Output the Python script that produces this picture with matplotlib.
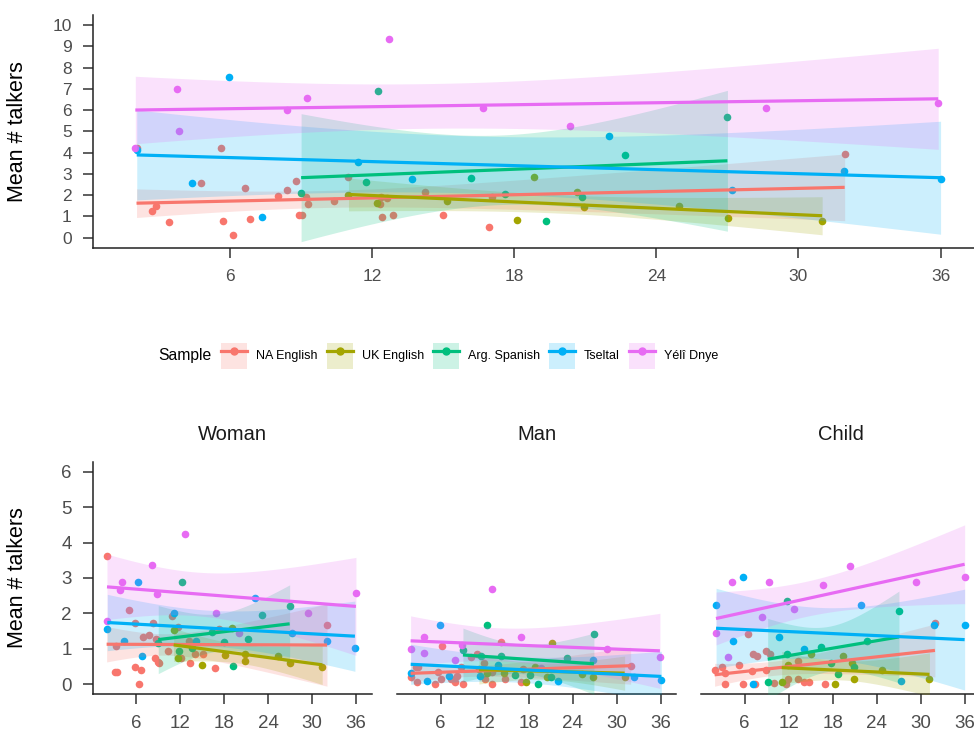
import matplotlib

matplotlib.use("Agg")
import matplotlib.pyplot as plt
import numpy as np
from matplotlib import font_manager
from matplotlib.legend_handler import HandlerTuple
from matplotlib.lines import Line2D
from matplotlib.patches import Patch

# ---- data: (age in months, mean # talkers) per sample --------------------
SAMPLES = ["NA English", "UK English", "Arg. Spanish", "Tseltal", "Yélî Dnye"]
COLORS = ["#F8766D", "#A3A500", "#00BF7D", "#00B0F6", "#E76BF3"]
FACETS = ["Woman", "Man", "Child"]

# top panel: all speakers
TOP_NA = [(2.05, 4.22), (2.72, 1.24), (2.87, 1.50), (3.41, 0.74), (4.79, 2.59),
          (5.63, 4.22), (5.72, 0.80), (6.14, 0.11), (6.65, 2.34), (6.86, 0.86),
          (8.01, 1.96), (8.39, 2.24), (8.80, 2.67), (8.89, 1.07), (9.04, 1.07),
          (9.21, 1.90), (9.27, 1.57), (10.37, 1.74), (11.0, 2.87), (12.37, 1.93),
          (12.62, 1.85), (12.31, 1.58), (12.41, 0.99), (12.87, 1.07), (14.25, 2.13),
          (14.98, 1.07), (16.93, 0.52), (17.07, 1.91), (31.95, 3.94)]
TOP_UK = [(11.0, 1.99), (12.2, 1.62), (15.15, 1.73), (18.11, 0.85), (18.84, 2.85),
          (20.65, 2.13), (20.94, 1.46), (24.97, 1.48), (27.04, 0.91), (31.0, 0.80)]
TOP_ARG = [(9.0, 2.12), (12.25, 6.9), (11.76, 2.6), (16.17, 2.79), (17.62, 2.07),
           (19.35, 0.80), (20.87, 1.91), (22.69, 3.87), (27.0, 5.67)]
TOP_TS = [(2.06, 4.12), (5.94, 7.56), (4.38, 2.57), (7.36, 0.99), (11.40, 3.54),
          (13.68, 2.76), (22.02, 4.78), (27.18, 2.23), (31.93, 3.12), (36.0, 2.77)]
TOP_YD = [(2.0, 4.23), (3.76, 6.99), (3.86, 5.02), (8.39, 6.0), (9.24, 6.55),
          (12.70, 9.34), (16.66, 6.11), (20.35, 5.24), (28.63, 6.11), (35.9, 6.32)]

# bottom panels: by speaker type
W_NA = [(2.0, 3.62), (5.0, 2.09), (5.9, 1.74), (8.27, 1.74), (6.95, 1.34), (7.73, 1.39),
        (8.77, 1.29), (3.27, 1.08), (3.1, 0.34), (3.4, 0.34), (5.9, 0.5), (6.72, 0.40),
        (6.37, 0.01), (8.63, 0.75), (8.96, 0.64), (9.1, 0.59), (10.31, 0.95), (10.9, 1.94),
        (11.73, 1.63), (12.18, 0.75), (13.18, 1.23), (13.32, 0.61), (14.0, 0.87),
        (15.14, 0.87), (16.82, 0.47), (17.36, 1.55), (32.05, 1.67)]
W_UK = [(11.14, 1.53), (11.73, 0.75), (19.09, 1.6), (15.0, 0.54), (18.18, 0.82),
        (20.82, 0.87), (20.9, 0.67), (25.4, 0.81), (26.99, 0.59), (31.4, 0.48)]
W_ARG = [(9.04, 1.16), (12.23, 2.89), (11.82, 0.94), (13.64, 1.02), (16.36, 1.47),
         (18.05, 1.2), (19.23, 0.53), (21.27, 1.28), (23.23, 1.95), (26.96, 2.21)]
W_TS = [(2.09, 1.55), (4.36, 1.23), (6.23, 2.9), (6.86, 0.79), (11.18, 2.0),
        (14.22, 1.22), (22.27, 2.45), (27.27, 1.44), (32.0, 1.23), (35.86, 1.02)]
W_YD = [(2.05, 1.8), (4.05, 2.9), (3.78, 2.66), (8.18, 3.36), (8.86, 2.56),
        (12.64, 4.23), (16.91, 2.01), (20.09, 1.44), (29.41, 2.0), (36.0, 2.57)]

M_NA = [(1.9, 0.22), (2.67, 0.48), (2.9, 0.48), (2.77, 0.07), (5.26, 0.01), (5.63, 0.34),
        (6.08, 0.14), (6.22, 1.08), (7.45, 0.14), (7.91, 0.07), (8.26, 0.24), (8.81, 0.48),
        (9.04, 0.01), (10.09, 0.78), (10.99, 0.87), (11.9, 0.61), (12.0, 0.14),
        (13.04, 0.36), (13.04, 0.01), (14.27, 1.2), (14.81, 0.14), (17.22, 0.42),
        (17.0, 0.07), (31.91, 0.52)]
M_UK = [(11.22, 0.42), (12.36, 0.33), (14.63, 0.33), (17.59, 0.07), (18.82, 0.48),
        (20.54, 0.22), (21.22, 1.16), (25.27, 0.28), (26.77, 0.22), (31.09, 0.2)]
M_ARG = [(9.04, 0.97), (12.31, 1.67), (11.54, 0.81), (14.18, 0.81), (16.09, 0.26),
         (18.14, 0.26), (19.27, 0.01), (21.08, 0.22), (23.22, 0.73), (26.9, 1.42)]
M_TS = [(1.91, 0.33), (4.17, 0.10), (5.95, 1.67), (7.09, 0.23), (11.32, 0.23),
        (13.81, 0.56), (22.0, 0.10), (26.77, 0.69), (32.32, 0.21), (36.1, 0.12)]
M_YD = [(1.9, 1.0), (3.72, 1.34), (3.72, 0.89), (7.99, 0.69), (8.86, 1.1),
        (13.04, 2.68), (16.91, 1.34), (19.64, 0.45), (28.68, 1.0), (35.9, 0.78)]

C_NA = [(1.9, 0.40), (2.86, 0.48), (3.31, 0.33), (3.31, 0.01), (5.26, 0.54), (5.73, 0.01),
        (7.4, 0.01), (6.41, 1.41), (6.95, 0.38), (7.09, 0.87), (7.72, 0.8), (8.86, 0.95),
        (9.45, 0.87), (8.9, 0.40), (10.0, 0.03), (11.63, 0.01), (11.95, 0.14),
        (13.23, 0.67), (13.3, 0.14), (14.09, 0.07), (14.81, 0.07), (16.95, 0.01),
        (31.95, 1.72)]
C_UK = [(11.05, 0.06), (11.95, 0.54), (15.0, 0.85), (18.31, 0.0), (19.36, 0.81),
        (20.67, 0.61), (20.95, 0.14), (24.68, 0.4), (31.2, 0.14)]
C_ARG = [(9.14, 0.07), (11.81, 2.35), (11.81, 0.87), (16.36, 1.06), (17.73, 0.59),
         (18.76, 0.28), (20.95, 0.48), (22.72, 1.21), (27.04, 2.08)]
C_TS = [(2.1, 2.23), (5.81, 3.02), (4.36, 1.23), (10.72, 1.34), (7.09, 0.01),
        (14.13, 1.0), (21.9, 2.23), (27.36, 0.10), (31.86, 1.67), (36.0, 1.67)]
C_YD = [(2.09, 1.44), (4.27, 2.9), (3.68, 0.78), (8.32, 1.89), (9.36, 2.9),
        (12.72, 2.12), (16.72, 2.79), (20.4, 3.34), (29.36, 2.9), (36.0, 3.02)]

TOP = [TOP_NA, TOP_UK, TOP_ARG, TOP_TS, TOP_YD]
BOTTOM = [[W_NA, W_UK, W_ARG, W_TS, W_YD],
          [M_NA, M_UK, M_ARG, M_TS, M_YD],
          [C_NA, C_UK, C_ARG, C_TS, C_YD]]

# ---- fonts ------------------------------------------------------------------
_names = {f.name for f in font_manager.fontManager.ttflist}
BASE = "Liberation Sans" if "Liberation Sans" in _names else "DejaVu Sans"
plt.rcParams["font.family"] = [BASE, "DejaVu Sans"]

W, H = 974, 732
TICK_GREY = "#4D4D4D"


def t975(df):
    # Cornish-Fisher approximation of the 97.5% Student-t quantile
    z = 1.959964
    return z + 2.3722 / df + 2.8224 / df ** 2 + 2.5558 / df ** 3


def smooth(ax, pts, color):
    # linear fit with 95% confidence band, like geom_smooth(method = "lm")
    x = np.array([p[0] for p in pts])
    y = np.array([p[1] for p in pts])
    n = len(x)
    b, a = np.polyfit(x, y, 1)
    resid = y - (a + b * x)
    s = np.sqrt(np.sum(resid ** 2) / (n - 2))
    xs = np.linspace(x.min(), x.max(), 80)
    fit = a + b * xs
    se = s * np.sqrt(1 / n + (xs - x.mean()) ** 2 / np.sum((x - x.mean()) ** 2))
    hw = t975(n - 2) * se
    ax.fill_between(xs, fit - hw, fit + hw, color=color, alpha=0.2, lw=0, zorder=3)
    ax.plot(xs, fit, color=color, lw=2.3, solid_capstyle="butt", zorder=4)


def panel(ax, groups, tick_size, show_y=True):
    for pts, c in zip(groups, COLORS):
        ax.scatter([p[0] for p in pts], [p[1] for p in pts], s=30, color=c,
                   linewidths=0, zorder=2)
    for pts, c in zip(groups, COLORS):
        smooth(ax, pts, c)
    for side in ("top", "right"):
        ax.spines[side].set_visible(False)
    for side in ("left", "bottom"):
        ax.spines[side].set_linewidth(1.1)
        ax.spines[side].set_color("#222222")
    ax.set_xticks([6, 12, 18, 24, 30, 36])
    ax.tick_params(length=7, width=1.1, color="#333333", labelcolor=TICK_GREY,
                   labelsize=tick_size, pad=8)
    if not show_y:
        ax.spines["left"].set_visible(False)
        ax.tick_params(axis="y", left=False, labelleft=False)


def px_axes(fig, left, top, width, height):
    return fig.add_axes([left / W, 1 - (top + height) / H, width / W, height / H])


fig = plt.figure(figsize=(W / 100, H / 100), dpi=100)

# top panel (extends past the right edge, as in the original crop)
ax = px_axes(fig, 92.7, 15, 890.5, 233.3)
panel(ax, TOP, 12.5)
ax.set_xlim(0.2, 37.8)
ax.set_ylim(-0.5, 10.47)
ax.set_yticks(range(0, 11))
fig.text(17.5 / W, 1 - 131.7 / H, "Mean # talkers", rotation=90, ha="center",
         va="center", fontsize=15.5, color="black")

# legend: shaded key box with line and point, all overlaid
handles = [(Patch(facecolor=c, alpha=0.2, edgecolor="none"),
            Line2D([], [], color=c, lw=2.3, marker="o", markersize=5))
           for c in COLORS]
fig.legend(handles, SAMPLES, handler_map={tuple: HandlerTuple(ndivide=1, pad=0)},
           loc="center left", bbox_to_anchor=(221 / W, 1 - 355.7 / H), ncol=5,
           frameon=False, numpoints=1, borderaxespad=0, borderpad=0,
           handlelength=2.08, handleheight=2.8, handletextpad=0.72,
           columnspacing=0.72, prop={"size": 9})
fig.text(158.3 / W, 1 - 355.7 / H, "Sample", ha="left", va="center",
         fontsize=11.3)

# facet panels
for i, (left, name, groups) in enumerate(zip([92.7, 397.4, 701.4], FACETS, BOTTOM)):
    bx = px_axes(fig, left, 461.7, 279, 232.6)
    panel(bx, groups, 13.5, show_y=(i == 0))
    bx.set_xlim(0.1, 38.15)
    bx.set_ylim(-0.28, 6.28)
    bx.set_yticks(range(0, 7))
    bx.text(0.5, 1 + (461.7 - 435) / 232.6, name, transform=bx.transAxes,
            ha="center", va="center", fontsize=14.5, color="#1A1A1A")
fig.text(17.5 / W, 1 - 577.6 / H, "Mean # talkers", rotation=90, ha="center",
         va="center", fontsize=15.5, color="black")

fig.savefig("out.png", dpi=100, facecolor="white")
